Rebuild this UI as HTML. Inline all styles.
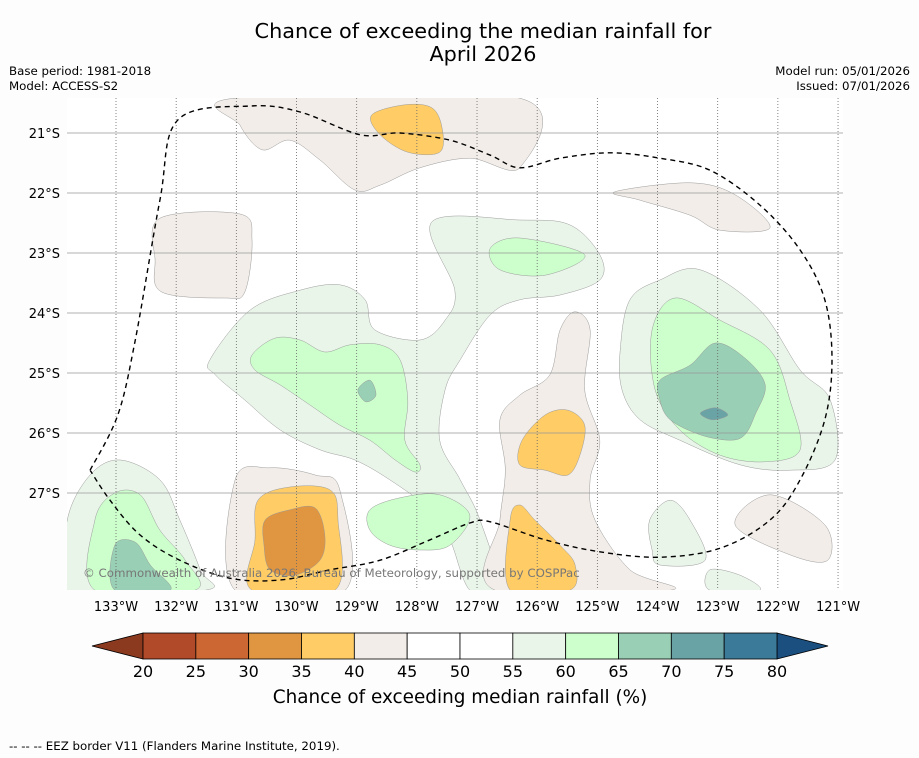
<!DOCTYPE html>
<html><head><meta charset="utf-8">
<style>
body{margin:0;background:#fdfdfd;}
svg{display:block;font-family:"DejaVu Sans","Liberation Sans",sans-serif;}
</style></head>
<body>
<svg id="chart" width="919" height="758" viewBox="0 0 919 758">
<rect width="919" height="758" fill="#fdfdfd"/>
<text x="483" y="38" font-size="20.8" text-anchor="middle">Chance of exceeding the median rainfall for</text>
<text x="483" y="61" font-size="20.8" text-anchor="middle">April 2026</text>
<text x="9" y="75" font-size="11.8">Base period: 1981-2018</text>
<text x="9" y="90" font-size="11.8">Model: ACCESS-S2</text>
<text x="910" y="75" font-size="11.8" text-anchor="end">Model run: 05/01/2026</text>
<text x="910" y="90" font-size="11.8" text-anchor="end">Issued: 07/01/2026</text>
<defs><clipPath id="mapclip"><rect x="67" y="98" width="776" height="492"/></clipPath></defs>
<g id="map" clip-path="url(#mapclip)">
<rect x="67" y="98" width="776" height="492" fill="#ffffff"/>
<g id="regions"></g>
<g id="grid"></g>
<path id="eez" fill="none" stroke="#000" stroke-width="1.4" stroke-dasharray="5,4"/>
</g>
<text x="83" y="577" font-size="11.8" fill="#777">© Commonwealth of Australia 2026, Bureau of Meteorology, supported by COSPPac</text>
<g id="ticks"></g>
<g id="colorbar"></g>
<text x="460" y="703" font-size="18.4" text-anchor="middle">Chance of exceeding median rainfall (%)</text>
<text x="9" y="750" font-size="11.8">--  --  -- EEZ border V11 (Flanders Marine Institute, 2019).</text>
</svg>
<script>
const lonTicks=[133,132,131,130,129,128,127,126,125,124,123,122,121];
const latTicks=[21,22,23,24,25,26,27];
const cbLevels=[20,25,30,35,40,45,50,55,60,65,70,75,80];
const cbColors=["#b04a28","#cc6633","#e09540","#ffcc66","#f2ede8","#ffffff","#ffffff","#eaf5ea","#ccffcc","#99cfb5","#6aa3a5","#3c7a99"];
const binColor={30:"#e09540",35:"#ffcc66",40:"#f2ede8",55:"#eaf5ea",60:"#ccffcc",65:"#99cfb5",70:"#6aa3a5"};
const regionBins=[40,35,40,40,55,60,65,60,55,60,65,70,40,35,35,40,35,30,60,55,60,65,55,40,55];
const regionShapes=[
[[131.02,20.42],[126.29,20.42],[126.29,21.58],[127.12,21.42],[127.95,21.58],[128.61,21.87],[129.03,21.95],[129.61,21.45],[130.11,21.12],[130.57,21.28],[130.94,20.87]],
[[128.75,20.70],[128.20,20.53],[127.75,20.58],[127.58,20.92],[127.62,21.32],[128.15,21.32],[128.61,21.03]],
[[132.27,22.42],[130.94,22.35],[130.74,22.78],[130.86,23.65],[131.19,23.75],[132.24,23.65],[132.35,23.12]],
[[124.71,21.98],[123.46,21.83],[122.71,22.03],[122.13,22.58],[122.96,22.62],[123.46,22.37],[124.29,22.12]],
[[131.44,24.78],[130.77,23.95],[129.94,23.62],[129.28,23.53],[128.86,23.78],[128.70,24.28],[127.95,24.45],[127.53,24.12],[127.37,23.62],[127.75,22.48],[126.29,22.45],[125.46,22.53],[124.96,23.03],[124.96,23.45],[125.62,23.70],[126.29,23.78],[126.78,24.03],[127.28,24.78],[127.53,25.28],[127.62,26.12],[127.28,26.78],[126.95,27.45],[126.62,28.62],[127.12,28.62],[127.45,27.78],[127.78,27.28],[128.45,26.78],[129.03,26.45],[129.61,26.28],[130.27,25.95],[130.86,25.45],[131.35,25.03]],
[[130.74,24.70],[130.36,24.42],[129.94,24.45],[129.53,24.65],[129.11,24.53],[128.61,24.53],[128.28,24.78],[128.15,25.45],[128.20,26.12],[127.95,26.53],[128.03,26.65],[128.36,26.45],[128.78,26.12],[129.28,25.87],[129.78,25.53],[130.27,25.2],[130.69,24.95]],
[[128.98,25.28],[128.78,25.12],[128.68,25.37],[128.85,25.48]],
[[126.78,22.92],[126.29,22.75],[125.21,23.03],[125.87,23.37],[126.62,23.28]],
[[124.62,24.62],[124.46,23.78],[123.96,23.45],[123.29,23.28],[122.30,23.95],[121.63,24.95],[121.13,25.45],[121.05,26.45],[121.80,26.62],[122.63,26.53],[123.63,26.12],[124.29,25.78],[124.59,25.28]],
[[124.09,24.28],[123.71,23.75],[122.96,24.12],[122.13,24.62],[121.80,25.45],[121.63,26.28],[122.21,26.48],[122.96,26.37],[123.63,25.95],[124.04,25.28]],
[[123.96,25.12],[123.46,24.87],[123.04,24.5],[122.55,24.75],[122.21,25.2],[122.38,25.7],[122.55,26.03],[122.80,26.12],[123.29,26.03],[123.79,25.78],[123.96,25.45]],
[[123.29,25.67],[123.04,25.58],[122.83,25.7],[123.09,25.78]],
[[126.62,25.78],[126.29,25.37],[125.79,25.03],[125.62,24.28],[125.37,23.98],[125.12,24.28],[125.21,25.28],[124.96,26.12],[125.12,26.78],[125.04,27.45],[124.46,28.28],[123.79,28.62],[126.70,28.62],[126.62,27.45],[126.53,26.62]],
[[126.25,26.12],[125.87,25.70],[125.49,25.62],[125.21,25.87],[125.29,26.37],[125.49,26.70],[125.87,26.62],[126.29,26.53]],
[[126.45,27.45],[126.29,27.2],[126.04,27.45],[125.62,27.87],[125.37,28.2],[125.46,28.62],[126.45,28.62]],
[[131.02,26.78],[130.44,26.58],[129.69,26.70],[129.28,26.95],[129.19,28.62],[131.02,28.62]],
[[130.64,27.12],[130.11,26.9],[129.44,26.95],[129.31,27.45],[129.36,28.62],[130.74,28.62],[130.69,27.78]],
[[130.52,27.45],[130.11,27.28],[129.69,27.25],[129.53,27.7],[129.61,28.12],[130.03,28.37],[130.44,28.28],[130.54,27.87]],
[[128.78,27.28],[128.28,27.08],[127.62,27.03],[127.12,27.37],[127.45,27.87],[127.95,27.95],[128.45,27.87],[128.78,27.62]],
[[133.81,27.45],[133.43,26.7],[132.93,26.45],[132.27,26.78],[131.94,27.45],[131.60,28.28],[131.52,28.62],[133.81,28.62]],
[[133.35,27.45],[133.02,27.0],[132.6,27.03],[132.27,27.62],[131.85,28.12],[131.69,28.62],[133.35,28.62]],
[[133.02,27.87],[132.68,27.82],[132.43,28.2],[132.1,28.62],[133.02,28.62]],
[[124.13,27.45],[123.79,27.12],[123.46,27.45],[123.21,28.12],[123.96,28.2],[124.09,27.95]],
[[122.71,27.53],[122.13,27.03],[121.22,27.53],[121.17,28.12],[121.8,28.03]],
[[123.13,28.28],[122.63,28.37],[122.30,28.62],[123.13,28.62]]
];
const eezLon=[133.43,132.97,132.68,132.27,131.97,130.77,129.94,128.94,128.28,127.45,126.78,126.29,125.62,124.79,123.96,123.13,122.30,121.63,121.22,121.10,121.22,121.63,122.13,122.96,123.96,124.96,125.87,126.78,127.12,127.78,128.61,129.44,130.27,131.11,131.94,132.6,133.1,133.43];
const eezLat=[26.62,25.7,24.45,22.12,20.78,20.55,20.65,21.03,21.0,21.12,21.37,21.58,21.42,21.33,21.42,21.62,22.2,22.95,23.78,24.78,25.78,26.78,27.45,27.92,28.07,27.98,27.78,27.48,27.5,27.78,28.12,28.28,28.45,28.42,28.12,27.70,27.12,26.62];

const NS="http://www.w3.org/2000/svg";
const xS=lon=>116+(133-lon)*60.17;
const yS=lat=>133+(lat-21)*60;
function mk(tag,attrs,parent){const e=document.createElementNS(NS,tag);for(const k in attrs)e.setAttribute(k,attrs[k]);parent.appendChild(e);return e;}
function smooth(pts,closed){
  const n=pts.length;let d="M"+pts[0][0].toFixed(1)+","+pts[0][1].toFixed(1);
  const seg=closed?n:n-1;
  for(let i=0;i<seg;i++){
    const p0=pts[(i-1+n)%n],p1=pts[i],p2=pts[(i+1)%n],p3=pts[(i+2)%n];
    const q0=(!closed&&i===0)?p1:p0,q3=(!closed&&i===n-2)?p2:p3;
    const c1=[p1[0]+(p2[0]-q0[0])/6,p1[1]+(p2[1]-q0[1])/6];
    const c2=[p2[0]-(q3[0]-p1[0])/6,p2[1]-(q3[1]-p1[1])/6];
    d+="C"+c1[0].toFixed(1)+","+c1[1].toFixed(1)+" "+c2[0].toFixed(1)+","+c2[1].toFixed(1)+" "+p2[0].toFixed(1)+","+p2[1].toFixed(1);
  }
  return d+(closed?"Z":"");
}
const rg=document.getElementById("regions");
regionShapes.forEach((shape,i)=>{
  const pts=shape.map(p=>[xS(p[0]),yS(p[1])]);
  const p=mk("path",{d:smooth(pts,true),fill:binColor[regionBins[i]],stroke:"#9a9a9a","stroke-width":"0.5"},rg);
  
  
});
const gg=document.getElementById("grid");
lonTicks.forEach(l=>{
  const ln=mk("line",{x1:xS(l),x2:xS(l),y1:98,y2:590,stroke:"#666","stroke-width":"0.8","stroke-dasharray":"1,2"},gg);
  
  
});
latTicks.forEach(l=>{
  const ln=mk("line",{x1:67,x2:843,y1:yS(l),y2:yS(l),stroke:"#999","stroke-width":"0.8"},gg);
  
  
});
const eez=document.getElementById("eez");
eez.setAttribute("d",smooth(eezLon.map((l,i)=>[xS(l),yS(eezLat[i])]),false));
const tg=document.getElementById("ticks");
lonTicks.forEach(l=>{
  const t=mk("text",{x:xS(l),y:611,"font-size":"13","text-anchor":"middle"},tg);t.textContent=l+"°W";
  
  
});
latTicks.forEach(l=>{
  const t=mk("text",{x:60,y:yS(l)+5,"font-size":"13","text-anchor":"end"},tg);t.textContent=l+"°S";
  
  
});
const cb=document.getElementById("colorbar");
const cx0=143,cx1=777,cy0=633,cy1=659;
const cbX=v=>cx0+(v-cbLevels[0])/(cbLevels[cbLevels.length-1]-cbLevels[0])*(cx1-cx0);
const la=mk("polygon",{points:`${cx0},${cy0} 92,${(cy0+cy1)/2} ${cx0},${cy1}`,fill:"#8b3a1f",stroke:"#000","stroke-width":"0.8"},cb);


const ra=mk("polygon",{points:`${cx1},${cy0} 828,${(cy0+cy1)/2} ${cx1},${cy1}`,fill:"#1a4f80",stroke:"#000","stroke-width":"0.8"},cb);


cbColors.forEach((c,i)=>{
  const r=mk("rect",{x:cbX(cbLevels[i]),y:cy0,width:cbX(cbLevels[i+1])-cbX(cbLevels[i]),height:cy1-cy0,fill:c,stroke:"#000","stroke-width":"0.8"},cb);
  
  
});
cbLevels.forEach(v=>{
  const t=mk("text",{x:cbX(v),y:677,"font-size":"16","text-anchor":"middle"},cb);t.textContent=v;
  
  
});
</script>
</body></html>
